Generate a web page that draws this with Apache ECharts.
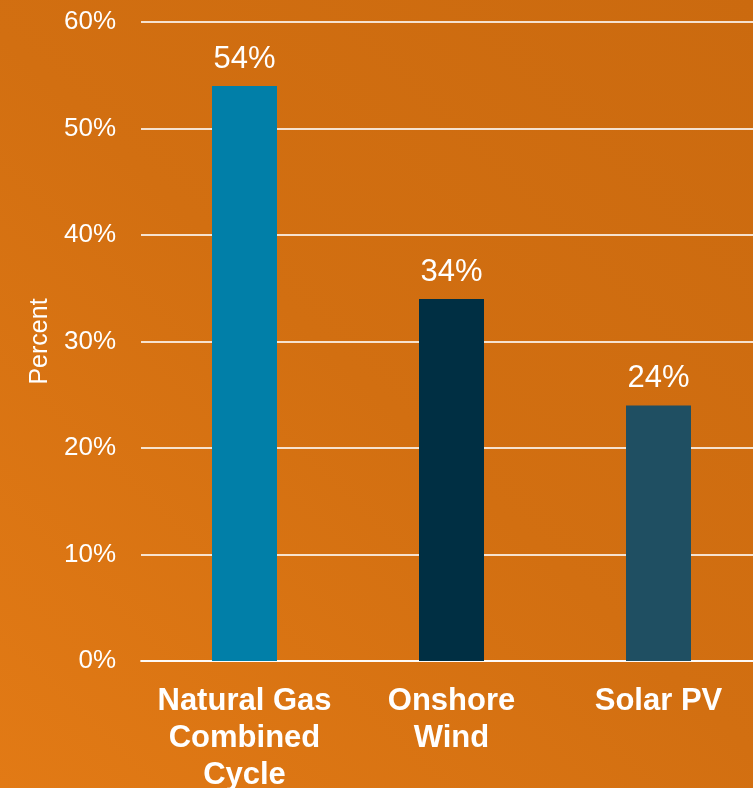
<!DOCTYPE html>
<html><head><meta charset="utf-8">
<script src="https://cdn.jsdelivr.net/npm/echarts@6/dist/echarts.min.js"></script>
<style>html,body{margin:0;padding:0;}#c{width:753px;height:788px;}</style>
</head><body><div id="c"></div>
<script>
const categories = ['Natural Gas\nCombined\nCycle', 'Onshore\nWind', 'Solar PV'];
const values = [54, 34, 24];
const barColors = ['#017FA8', '#002F43', '#1F4F62'];
const yTicks = [0, 10, 20, 30, 40, 50, 60];

const chart = echarts.init(document.getElementById('c'));
chart.setOption({
  backgroundColor: new echarts.graphic.LinearGradient(1, 0, 0, 1, [
    {offset: 0, color: '#CB6A0F'},
    {offset: 0.5, color: '#D26F11'},
    {offset: 1, color: '#E27A15'}
  ]),
  textStyle: {fontFamily: 'Liberation Sans, Arial, sans-serif'},
  grid: {left: 141, right: -9, top: 22, bottom: 127, containLabel: false, outerBoundsMode: 'none'},
  xAxis: {
    type: 'category',
    data: categories,
    axisLine: {show: true, lineStyle: {color: 'rgba(255,255,255,0.8)', width: 2}},
    axisTick: {show: false},
    axisLabel: {color: '#fff', fontSize: 31, fontWeight: 'bold', lineHeight: 37, margin: 22, interval: 0}
  },
  yAxis: {
    type: 'value',
    min: yTicks[0], max: yTicks[yTicks.length - 1], interval: 10,
    name: 'Percent',
    nameLocation: 'middle',
    nameGap: 80,
    nameRotate: 90,
    nameTextStyle: {color: '#fff', fontSize: 25},
    axisLine: {show: false},
    axisTick: {show: false},
    splitLine: {lineStyle: {color: 'rgba(255,255,255,0.8)', width: 2}},
    axisLabel: {color: '#fff', fontSize: 26, margin: 25, formatter: v => v + '%'}
  },
  series: [{
    type: 'bar',
    barWidth: 65,
    data: values.map((v, i) => ({value: v, itemStyle: {color: barColors[i]}})),
    label: {show: true, position: 'top', distance: 11, color: '#fff', fontSize: 31, formatter: p => p.value + '%'}
  }]
});
</script></body></html>
